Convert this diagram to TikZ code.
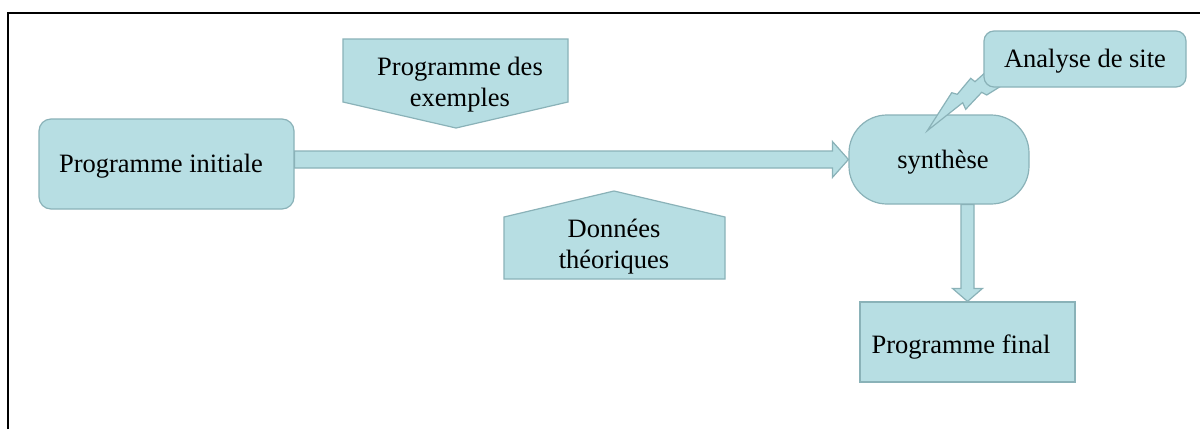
\documentclass[tikz,border=0pt]{standalone}
\usepackage{fontspec}
\setmainfont{Liberation Serif}
\usetikzlibrary{calc}
\definecolor{boxfill}{RGB}{183,222,227}
\definecolor{boxline}{RGB}{138,178,184}
\begin{document}
\begin{tikzpicture}[x=1pt,y=-1pt,
  shp/.style={fill=boxfill,draw=boxline,line width=1.2pt,line join=miter},
  lbl/.style={font=\fontsize{26.5}{31}\selectfont,align=center,text=black,inner sep=0pt},
  boxnode/.style={shp}]
\useasboundingbox (0,0) rectangle (1200,429);
\fill[white] (0,0) rectangle (1200,429);
% frame
\draw[line width=2pt] (8,429) -- (8,12.5) -- (1200,12.5);

% nodes
\node[boxnode,rounded corners=12,minimum width=255,minimum height=90] (init) at (166.5,164) {};
\node[lbl] (initt) at (161,166) {Programme initiale};
\node[boxnode,rounded corners=38,minimum width=180,minimum height=89] (syn) at (939,159.5) {};
\node[lbl] (synt) at (943,162) {synthèse};
\node[boxnode,minimum width=215,minimum height=80] (fin) at (967.5,342) {};
\node[lbl] (fint) at (961,347) {Programme final};

% pentagon callouts
\path[shp] (343,39) -- (568,39) -- (568,102) -- (456,128) -- (343,102) -- cycle;
\node[lbl] (ex) at (460,85) {Programme des\\exemples};
\path[shp] (614,191) -- (725,217) -- (725,279) -- (504,279) -- (504,217) -- cycle;
\node[lbl] (don) at (614,247) {Données\\théoriques};

% main block arrow init -> syn
\path[shp] let \p1=(syn.west), \p2=(init.east) in
  (\x2,\y1+8.5pt) -- (\x1-16pt,\y1+8.5pt) -- (\x1-16pt,\y1+18pt) -- (\x1,\y1)
  -- (\x1-16pt,\y1-18pt) -- (\x1-16pt,\y1-8.5pt) -- (\x2,\y1-8.5pt) -- cycle;

% down block arrow syn -> fin
\path[shp] let \p1=(syn.south), \p2=(fin.north) in
  (\x2-6.5pt,\y1) -- (\x2+6.5pt,\y1) -- (\x2+6.5pt,\y2+13pt) -- (\x2+15pt,\y2+13pt)
  -- (\x2,\y2) -- (\x2-15pt,\y2+13pt) -- (\x2-6.5pt,\y2+13pt) -- cycle;

% lightning callout
\path[shp] (992,66) -- (985,72.7) -- (975,81.7) -- (970.7,78.3) -- (957.3,94.3) -- (951.7,92.7) -- (927.3,130.7)
  -- (962.7,102.7) -- (965.7,109.3) -- (981.7,92.3) -- (986.7,95) -- (1000,86.7) -- (1005,80) -- cycle;
\node[boxnode,rounded corners=10,minimum width=202,minimum height=56] (site) at (1085,59) {};
\node[lbl] (sitet) at (1085,61) {Analyse de site};
\end{tikzpicture}
\end{document}
